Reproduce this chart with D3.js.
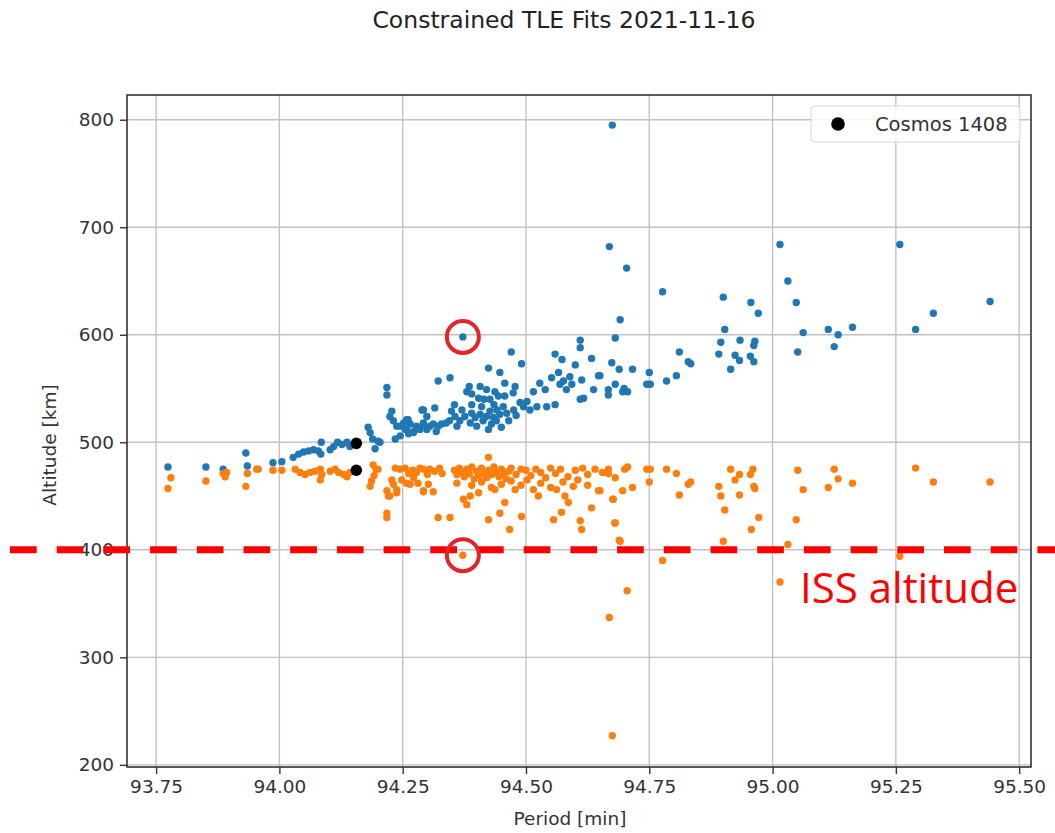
<!DOCTYPE html>
<html>
<head>
<meta charset="utf-8">
<script src="https://cdn.jsdelivr.net/npm/d3@7"></script>
<style>
  body { margin: 0; background: #fff; }
  svg { display: block; font-family: 'DejaVu Sans', sans-serif; }
</style>
</head>
<body>
<svg id="chart" width="1055" height="833"></svg>
<script>
// values: [period (min), altitude (km)]
const chartTitle = 'Constrained TLE Fits 2021-11-16'
const xTicks = [93.75, 94.0, 94.25, 94.5, 94.75, 95.0, 95.25, 95.5]
const yTicks = [200, 300, 400, 500, 600, 700, 800]
const issAltitude = 400
const highlighted = [[94.372, 598], [94.372, 395]]
const cosmos1408 = [[94.156, 499], [94.156, 474]]

const blueFits = [
  [93.774, 477], [93.851, 477], [93.886, 475], [93.932, 490], [93.935, 478], [93.987, 481], [94.005, 482],
  [94.028, 486], [94.039, 489], [94.049, 491], [94.059, 492], [94.069, 493], [94.079, 492], [94.085, 500],
  [94.084, 489], [94.103, 493], [94.11, 496], [94.118, 500], [94.127, 498], [94.137, 500], [94.143, 496],
  [94.18, 514], [94.184, 509], [94.189, 503], [94.194, 494], [94.2, 501], [94.204, 500], [94.218, 551],
  [94.218, 544], [94.228, 529], [94.224, 524], [94.231, 520], [94.238, 515], [94.235, 503], [94.245, 506],
  [94.252, 518], [94.261, 521], [94.258, 512], [94.272, 509], [94.278, 513], [94.289, 530], [94.292, 518],
  [94.299, 512], [94.245, 515], [94.255, 512], [94.265, 517], [94.272, 510], [94.278, 515], [94.285, 512],
  [94.292, 517], [94.305, 515], [94.312, 517], [94.322, 515], [94.329, 517], [94.292, 530], [94.299, 524],
  [94.315, 532], [94.258, 521], [94.322, 557], [94.346, 560], [94.349, 529], [94.356, 524], [94.366, 520],
  [94.376, 524], [94.387, 518], [94.397, 523], [94.407, 526], [94.413, 520], [94.42, 524], [94.427, 529],
  [94.434, 523], [94.441, 530], [94.447, 526], [94.454, 533], [94.461, 527], [94.424, 512], [94.36, 515],
  [94.37, 530], [94.39, 527], [94.4, 515], [94.41, 533], [94.43, 517], [94.44, 520], [94.45, 514],
  [94.39, 535], [94.415, 540], [94.435, 535], [94.465, 520], [94.475, 530], [94.48, 525], [94.345, 520],
  [94.355, 535], [94.385, 552], [94.39, 545], [94.407, 552], [94.262, 508], [94.318, 510], [94.338, 518],
  [94.38, 547], [94.404, 541], [94.42, 549], [94.437, 547], [94.427, 540], [94.444, 543], [94.457, 543],
  [94.474, 546], [94.478, 552], [94.424, 569], [94.447, 565], [94.457, 555], [94.47, 584], [94.491, 573],
  [94.488, 537], [94.495, 533], [94.502, 538], [94.508, 530], [94.515, 547], [94.522, 533], [94.528, 555],
  [94.539, 549], [94.542, 533], [94.559, 582], [94.573, 577], [94.566, 565], [94.552, 560], [94.559, 535],
  [94.569, 554], [94.576, 557], [94.582, 549], [94.589, 561], [94.593, 554], [94.6, 572], [94.61, 595],
  [94.61, 588], [94.613, 558], [94.61, 540], [94.617, 541], [94.633, 578], [94.647, 562], [94.637, 549],
  [94.372, 598], [94.674, 574], [94.681, 597], [94.667, 549], [94.667, 544], [94.681, 554], [94.689, 568],
  [94.696, 547], [94.691, 614], [94.716, 568], [94.65, 562], [94.699, 550], [94.706, 547], [94.745, 554],
  [94.752, 554], [94.75, 565], [94.785, 557], [94.805, 562], [94.811, 584], [94.829, 575], [94.834, 573],
  [94.903, 605], [94.895, 593], [94.891, 582], [94.915, 568], [94.924, 581], [94.934, 595], [94.933, 576],
  [94.955, 580], [94.962, 575], [94.964, 594], [94.962, 590], [95.062, 602], [95.051, 584], [95.113, 605],
  [95.125, 589], [95.133, 600], [95.162, 607], [95.258, 684], [95.29, 605], [95.326, 620], [95.441, 631],
  [94.675, 795], [94.669, 682], [94.704, 662], [94.777, 640], [94.9, 635], [94.956, 630], [94.971, 620],
  [95.015, 684], [95.031, 650], [95.048, 630]
]

const orangeFits = [
  [93.78, 467], [93.774, 457], [93.851, 464], [93.89, 468], [93.893, 472], [93.886, 471], [93.935, 471],
  [93.932, 459], [93.954, 475], [93.957, 475], [93.987, 474], [94.005, 474], [94.032, 475], [94.042, 472],
  [94.052, 470], [94.062, 472], [94.072, 473], [94.083, 475], [94.083, 465], [94.086, 470], [94.103, 473],
  [94.113, 475], [94.12, 472], [94.13, 470], [94.137, 468], [94.143, 472], [94.19, 479], [94.196, 475],
  [94.192, 469], [94.187, 464], [94.184, 459], [94.2, 475], [94.218, 455], [94.221, 450], [94.218, 434],
  [94.218, 430], [94.235, 476], [94.245, 475], [94.228, 465], [94.231, 461], [94.238, 456], [94.248, 465],
  [94.258, 462], [94.272, 467], [94.281, 462], [94.292, 455], [94.278, 472], [94.292, 475], [94.224, 450],
  [94.238, 453], [94.265, 461], [94.292, 454], [94.312, 454], [94.302, 461], [94.322, 430], [94.346, 430],
  [94.373, 447], [94.38, 442], [94.387, 450], [94.404, 453], [94.424, 428], [94.437, 456], [94.447, 434],
  [94.457, 444], [94.467, 419], [94.491, 431], [94.478, 456], [94.502, 465], [94.515, 456], [94.525, 450],
  [94.556, 428], [94.572, 435], [94.562, 456], [94.579, 450], [94.586, 444], [94.596, 459], [94.61, 427],
  [94.613, 419], [94.633, 439], [94.647, 455], [94.677, 447], [94.68, 425], [94.689, 409], [94.372, 395],
  [94.424, 486],
  [94.255, 476], [94.262, 471], [94.27, 474], [94.285, 476], [94.3, 470], [94.305, 475], [94.315, 473],
  [94.325, 476], [94.33, 471], [94.355, 474], [94.36, 470], [94.365, 476], [94.37, 472], [94.375, 468],
  [94.38, 475], [94.385, 471], [94.39, 477], [94.395, 466], [94.4, 473], [94.405, 469], [94.41, 476],
  [94.415, 471], [94.42, 467], [94.425, 474], [94.43, 470], [94.435, 477], [94.44, 472], [94.445, 468],
  [94.45, 475], [94.455, 470], [94.46, 466], [94.465, 473], [94.47, 476], [94.48, 470], [94.49, 475],
  [94.5, 474], [94.51, 469], [94.52, 475], [94.53, 472], [94.54, 467], [94.55, 476], [94.56, 471],
  [94.57, 475], [94.585, 468], [94.6, 474], [94.615, 476], [94.625, 470], [94.64, 475], [94.655, 472],
  [94.36, 462], [94.39, 460], [94.41, 463], [94.43, 458], [94.45, 461], [94.47, 464], [94.49, 460],
  [94.53, 462], [94.55, 458], [94.575, 463], [94.605, 465], [94.625, 460],
  [94.667, 475], [94.667, 471], [94.681, 467], [94.7, 475], [94.706, 477], [94.65, 455], [94.676, 447],
  [94.696, 455], [94.716, 458], [94.681, 425], [94.691, 408], [94.745, 475], [94.752, 475], [94.75, 463],
  [94.785, 475], [94.805, 471], [94.811, 451], [94.829, 461], [94.834, 463], [94.777, 390],
  [94.915, 475], [94.924, 465], [94.933, 470], [94.955, 470], [94.96, 475], [94.962, 459], [94.964, 457],
  [94.891, 459], [94.895, 450], [94.903, 437], [94.933, 451], [94.972, 430], [94.957, 419], [94.9, 408],
  [95.051, 474], [95.062, 456], [95.048, 428], [95.031, 405], [95.113, 458], [95.125, 475], [95.133, 466],
  [95.162, 462], [95.29, 476], [95.326, 463], [95.441, 463], [95.258, 394],
  [94.705, 362], [94.669, 337], [95.015, 370], [94.675, 227]
]

const svg = d3.select('#chart')
const W = +svg.attr('width')
const margin = { left: 127, right: 1031, top: 95, bottom: 767 }

const x = d3.scaleLinear().domain([93.691, 95.524]).range([margin.left, margin.right])
const y = d3.scaleLinear().domain([198, 823]).range([margin.bottom, margin.top])

// grid
const grid = svg.append('g').attr('stroke', '#c2c2c2').attr('stroke-width', 1.4)
grid.selectAll('.gx').data(xTicks).enter().append('line')
  .attr('x1', d => x(d)).attr('x2', d => x(d))
  .attr('y1', margin.top).attr('y2', margin.bottom)
grid.selectAll('.gy').data(yTicks).enter().append('line')
  .attr('x1', margin.left).attr('x2', margin.right)
  .attr('y1', d => y(d)).attr('y2', d => y(d))

// axes
const xAxis = svg.append('g')
  .attr('transform', `translate(0,${margin.bottom})`)
  .call(d3.axisBottom(x).tickValues(xTicks).tickFormat(d3.format('.2f')).tickSize(7).tickPadding(6))
const yAxis = svg.append('g')
  .attr('transform', `translate(${margin.left},0)`)
  .call(d3.axisLeft(y).tickValues(yTicks).tickFormat(d => d).tickSize(7).tickPadding(6))
;[xAxis, yAxis].forEach(a => {
  a.select('.domain').remove()
  a.selectAll('.tick line').attr('stroke', '#333').attr('stroke-width', 1.4)
  a.selectAll('.tick text').attr('fill', '#333').style('font-size', '18.5px').style('font-family', 'DejaVu Sans')
})

svg.append('rect')
  .attr('x', margin.left).attr('y', margin.top)
  .attr('width', margin.right - margin.left).attr('height', margin.bottom - margin.top)
  .attr('fill', 'none').attr('stroke', '#333').attr('stroke-width', 1.6)

// points
const dots = svg.append('g')
dots.selectAll('.b').data(blueFits).enter().append('circle')
  .attr('cx', d => x(d[0])).attr('cy', d => y(d[1])).attr('r', 3.7).attr('fill', '#1f77b4')
dots.selectAll('.o').data(orangeFits).enter().append('circle')
  .attr('cx', d => x(d[0])).attr('cy', d => y(d[1])).attr('r', 3.7).attr('fill', '#ff7f0e')
dots.selectAll('.k').data(cosmos1408).enter().append('circle')
  .attr('cx', d => x(d[0])).attr('cy', d => y(d[1])).attr('r', 5.8).attr('fill', '#000')

// legend
const leg = svg.append('g')
leg.append('rect')
  .attr('x', 811).attr('y', 106).attr('width', 209).attr('height', 36).attr('rx', 4)
  .attr('fill', '#fff').attr('fill-opacity', 0.85).attr('stroke', '#d6d6d6')
leg.append('circle').attr('cx', 838).attr('cy', 124).attr('r', 6.8).attr('fill', '#000')
leg.append('text').attr('x', 875).attr('y', 131).text('Cosmos 1408')
  .attr('fill', '#333').style('font-size', '19.5px')

// titles
svg.append('text').attr('x', 564).attr('y', 28).attr('text-anchor', 'middle')
  .attr('fill', '#222').style('font-size', '23.5px').text(chartTitle)
svg.append('text').attr('x', 570).attr('y', 825).attr('text-anchor', 'middle')
  .attr('fill', '#333').style('font-size', '18.5px').text('Period [min]')
svg.append('text').attr('transform', 'translate(56,445) rotate(-90)').attr('text-anchor', 'middle')
  .attr('fill', '#333').style('font-size', '18.5px').text('Altitude [km]')

// annotation: ISS altitude
svg.append('line')
  .attr('x1', 10).attr('x2', W).attr('y1', y(issAltitude)).attr('y2', y(issAltitude))
  .attr('stroke', '#ff0000').attr('stroke-width', 7).attr('stroke-dasharray', '26.7 20')
svg.append('text').attr('x', 800).attr('y', 603)
  .attr('fill', '#ff0000').style('font-family', "'Open Sans', sans-serif").style('font-size', '42px')
  .text('ISS altitude')
svg.selectAll('.hl').data(highlighted).enter().append('circle')
  .attr('cx', d => x(d[0])).attr('cy', d => y(d[1])).attr('r', 16)
  .attr('fill', 'none').attr('stroke', '#e3242b').attr('stroke-width', 4)
</script>
</body>
</html>
